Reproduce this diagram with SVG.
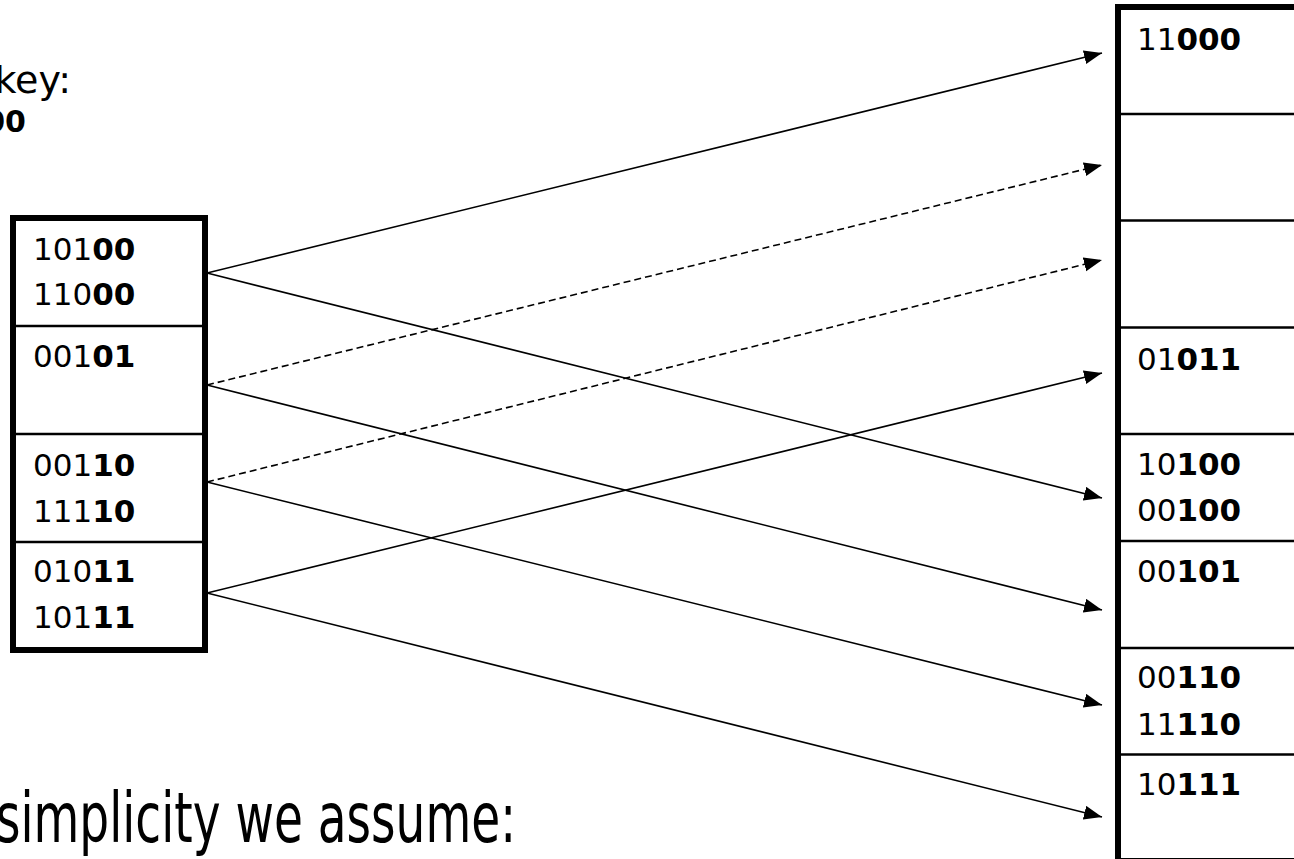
<svg xmlns="http://www.w3.org/2000/svg" width="1294" height="859" viewBox="0 0 1294 859">
<style>
text{font-family:"DejaVu Sans",Verdana,sans-serif;fill:#000}
.d{font-size:31px}
.b{font-weight:bold}
.box{fill:#fff;stroke:#000;stroke-width:6}
.div{stroke:#000;stroke-width:2.5}
.arr{stroke:#000;stroke-width:1.6;fill:none;marker-end:url(#ah)}
.dash{stroke-dasharray:7 4}
</style>
<defs>
<marker id="ah" markerUnits="userSpaceOnUse" markerWidth="20" markerHeight="16" refX="18" refY="7" orient="auto">
<path d="M0,0 L18,7 L0,14 z" fill="#000"/>
</marker>
</defs>
<rect width="1294" height="859" fill="#fff"/>
<g id="labels">
<text x="71" y="93" font-size="38" text-anchor="end">key:</text>
<text x="26" y="132" font-size="30" class="b" text-anchor="end">00</text>
<text x="-4" y="842" font-size="70" textLength="520" lengthAdjust="spacingAndGlyphs">simplicity we assume:</text>
</g>
<g id="directory">
<rect class="box" x="13" y="218" width="192" height="432"/>
<line class="div" x1="13" y1="326" x2="205" y2="326"/>
<line class="div" x1="13" y1="434" x2="205" y2="434"/>
<line class="div" x1="13" y1="542" x2="205" y2="542"/>
<text class="d" x="33" y="260">101<tspan class="b">00</tspan></text>
<text class="d" x="33" y="305">110<tspan class="b">00</tspan></text>
<text class="d" x="33" y="367">001<tspan class="b">01</tspan></text>
<text class="d" x="33" y="476">001<tspan class="b">10</tspan></text>
<text class="d" x="33" y="522">111<tspan class="b">10</tspan></text>
<text class="d" x="33" y="582">010<tspan class="b">11</tspan></text>
<text class="d" x="33" y="628">101<tspan class="b">11</tspan></text>
</g>
<g id="buckets">
<rect class="box" x="1118" y="7" width="200" height="854"/>
<line class="div" x1="1118" y1="114" x2="1300" y2="114"/>
<line class="div" x1="1118" y1="220.5" x2="1300" y2="220.5"/>
<line class="div" x1="1118" y1="327.5" x2="1300" y2="327.5"/>
<line class="div" x1="1118" y1="434" x2="1300" y2="434"/>
<line class="div" x1="1118" y1="541" x2="1300" y2="541"/>
<line class="div" x1="1118" y1="648" x2="1300" y2="648"/>
<line class="div" x1="1118" y1="754.5" x2="1300" y2="754.5"/>
<text class="d" x="1137" y="50">11<tspan class="b">000</tspan></text>
<text class="d" x="1137" y="370">01<tspan class="b">011</tspan></text>
<text class="d" x="1137" y="475">10<tspan class="b">100</tspan></text>
<text class="d" x="1137" y="521">00<tspan class="b">100</tspan></text>
<text class="d" x="1137" y="582">00<tspan class="b">101</tspan></text>
<text class="d" x="1137" y="688">00<tspan class="b">110</tspan></text>
<text class="d" x="1137" y="735">11<tspan class="b">110</tspan></text>
<text class="d" x="1137" y="795">10<tspan class="b">111</tspan></text>
</g>
<g id="connectors">
<line class="arr" x1="207" y1="273" x2="1102" y2="53"/>
<line class="arr" x1="207" y1="273" x2="1102" y2="498"/>
<line class="arr" x1="207" y1="385" x2="1102" y2="610"/>
<line class="arr dash" x1="207" y1="385" x2="1102" y2="165"/>
<line class="arr dash" x1="207" y1="482" x2="1102" y2="260"/>
<line class="arr" x1="207" y1="482" x2="1102" y2="705"/>
<line class="arr" x1="207" y1="593" x2="1102" y2="373"/>
<line class="arr" x1="207" y1="593" x2="1102" y2="817"/>
</g>
</svg>
